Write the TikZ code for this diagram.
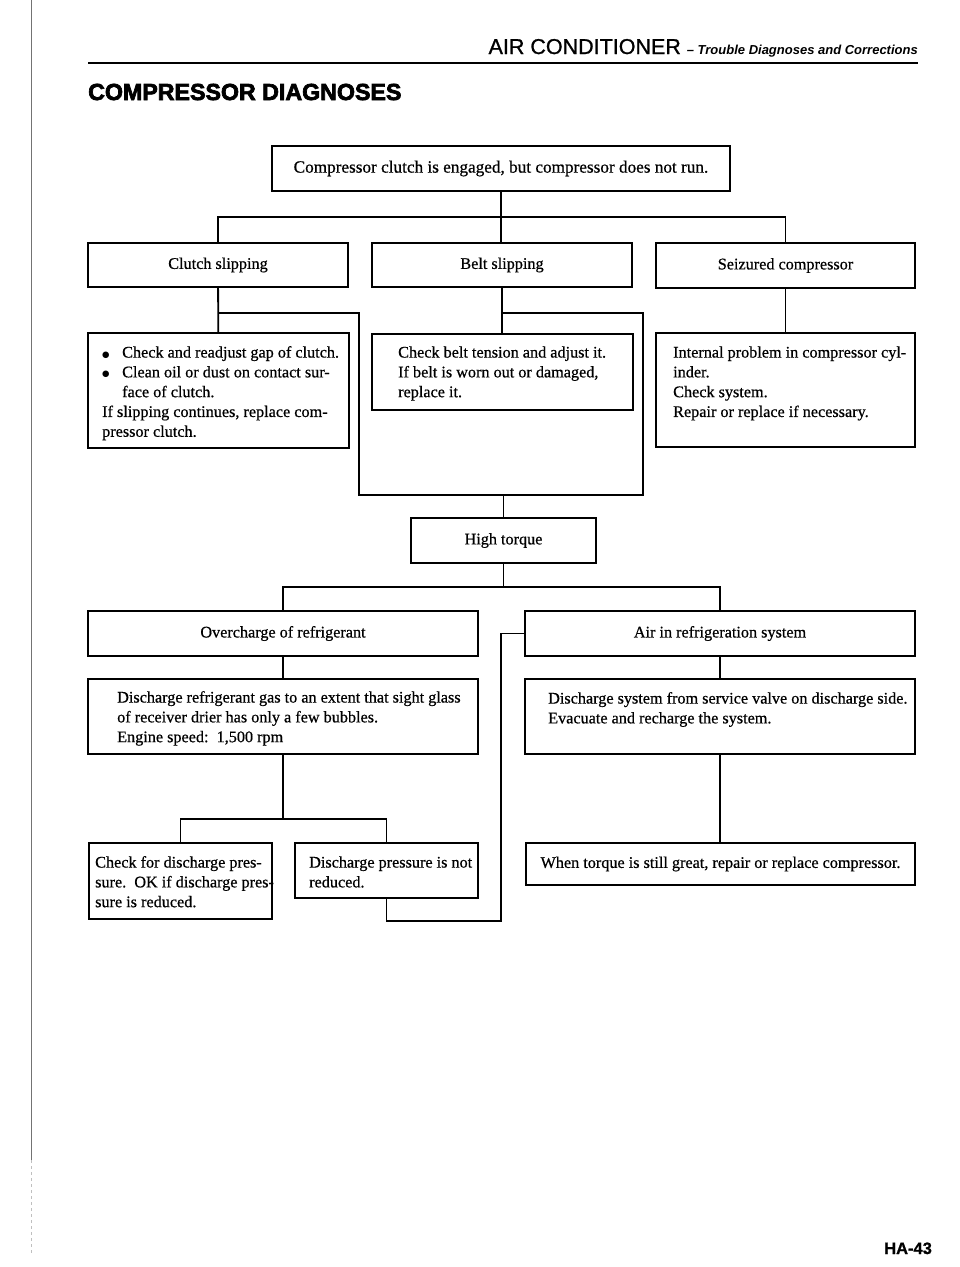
\documentclass[tikz,border=0pt]{standalone}
\usepackage{fontspec}
\setmainfont{Liberation Serif}[RawFeature={embolden=0.6}]
\newfontfamily\hdrfont{Liberation Sans}[RawFeature={embolden=1.0}]
\newfontfamily\hdritfont{Liberation Sans Bold Italic}
\newfontfamily\heavyfont{Liberation Sans Bold}[RawFeature={embolden=3.0}]
\newfontfamily\symfont{DejaVu Sans}
\newcommand{\bul}{\makebox[20pt][l]{\raisebox{0.5pt}{\symfont\fontsize{8.5}{8.5}\selectfont ●}}}
\usetikzlibrary{calc}
\begin{document}
\begin{tikzpicture}[x=1pt,y=-1pt,
  box/.style={draw, line width=1.7pt, inner sep=0pt, align=center,
    font=\fontsize{16.2}{19.8}\selectfont},
  txt/.style={anchor=north west, inner sep=0pt, align=left,
    font=\fontsize{16.2}{19.8}\selectfont},
  conn/.style={line width=1.8pt}]
\fill[white] (0,0) rectangle (960,1267);
\useasboundingbox (0,0) rectangle (960,1267);
% scan edge line
\draw[black!55, line width=1pt] (31,0) -- (31,1160);
\draw[black!25, line width=0.8pt, dashed] (31,1160) -- (31,1255);
% header
\node[anchor=base east, inner sep=0pt] (hdr) at (918,54)
  {\hdrfont\fontsize{21.5}{21.5}\selectfont AIR CONDITIONER {\hdritfont\fontsize{13}{13}\selectfont – Trouble Diagnoses and Corrections}};
\draw[line width=2.6pt] (88,63) -- (918,63);
\node[anchor=base west, inner sep=0pt] (title) at (88,100)
  {\heavyfont\fontsize{23.2}{23.2}\selectfont COMPRESSOR DIAGNOSES};
% boxes
\node[box, minimum width=458pt, minimum height=45pt,
  font=\fontsize{17.2}{20}\selectfont] (top) at (501,168.5)
  {\raisebox{-1.5pt}{Compressor clutch is engaged, but compressor does not run.}};
\node[box, minimum width=260pt, minimum height=44pt] (clutch) at (218,265) {Clutch slipping};
\node[box, minimum width=260pt, minimum height=44pt] (belt) at (502,265) {Belt slipping};
\node[box, minimum width=259pt, minimum height=45pt] (seized) at (785.5,265.5) {Seizured compressor};
\node[box, minimum width=261pt, minimum height=115pt] (clutchact) at (218.5,390.5) {};
\node[box, minimum width=261pt, minimum height=76pt] (beltact) at (502.5,372) {};
\node[box, minimum width=259pt, minimum height=114pt] (seizedact) at (785.5,390) {};
\node[box, minimum width=185pt, minimum height=45pt] (high) at (503.5,540.5) {High torque};
\node[box, minimum width=390pt, minimum height=45pt] (over) at (283,633.5) {Overcharge of refrigerant};
\node[box, minimum width=390pt, minimum height=45pt] (air) at (720,633.5) {Air in refrigeration system};
\node[box, minimum width=390pt, minimum height=75pt] (disch) at (283,716.5) {};
\node[box, minimum width=390pt, minimum height=75pt] (dissys) at (720,716.5) {};
\node[box, minimum width=183pt, minimum height=76pt] (check) at (180.5,881) {};
\node[box, minimum width=183pt, minimum height=55pt] (notred) at (386.5,870.5) {};
\node[box, minimum width=389pt, minimum height=42pt] (when) at (720.5,864)
  {When torque is still great, repair or replace compressor.};
% box texts
\node[txt] (clutchact-t) at (102,343.5)
  {\strut\bul Check and readjust gap of clutch.\\
   \bul Clean oil or dust on contact sur-\\
   \hspace*{20pt}face of clutch.\\
   If slipping continues, replace com-\\
   pressor clutch.};
\node[txt] (beltact-t) at (398,343.5)
  {\strut Check belt tension and adjust it.\\
   If belt is worn out or damaged,\\
   replace it.};
\node[txt] (seizedact-t) at (673,343.5)
  {\strut Internal problem in compressor cyl-\\
   inder.\\
   Check system.\\
   Repair or replace if necessary.};
\node[txt] (disch-t) at (117,688.5)
  {\strut Discharge refrigerant gas to an extent that sight glass\\
   of receiver drier has only a few bubbles.\\
   Engine speed:\ \ 1,500 rpm};
\node[txt] (dissys-t) at (548,689.5)
  {\strut Discharge system from service valve on discharge side.\\
   Evacuate and recharge the system.};
\node[txt] (check-t) at (95,853.5)
  {\strut Check for discharge pres-\\
   sure.\ \ OK if discharge pres-\\
   sure is reduced.};
\node[txt] (notred-t) at (309,853.5)
  {\strut Discharge pressure is not\\
   reduced.};
% connectors
\coordinate (b1) at (501,217);
\coordinate (lL) at (359,495);
\coordinate (lR) at (643,495);
\coordinate (b2) at (503.5,587);
\coordinate (b3) at (283,819);
\coordinate (c1) at (501,921);
\draw[conn] (top.south) -- (top.south |- belt.north);
\draw[conn] (clutch.north) |- (b1) -| (seized.north);
\draw[conn] (clutch) -- (clutchact);
\draw[conn] (belt.south) -- (belt.south |- beltact.north);
\draw[conn] (seized) -- (seizedact);
\draw[conn] ($(clutch.south)+(0,25)$) -| (lL) -- (lR) |- ($(belt.south)+(0,25)$);
\draw[conn] (high.north) -- (high.north |- lL);
\draw[conn] (high.south) -- (b2);
\draw[conn] (over.north) |- (b2) -| (air.north);
\draw[conn] (over) -- (disch);
\draw[conn] (air) -- (dissys);
\draw[conn] (dissys.south) -- (dissys.south |- when.north);
\draw[conn] (disch.south) -- (b3);
\draw[conn] (check.north) |- (b3) -| (notred.north);
\draw[conn] (notred.south) |- (c1) |- (air.west);
% page number
\node[anchor=base west, inner sep=0pt] (page) at (884,1254)
  {\hdrfont\bfseries\fontsize{16.5}{16.5}\selectfont HA-43};
\end{tikzpicture}
\end{document}
